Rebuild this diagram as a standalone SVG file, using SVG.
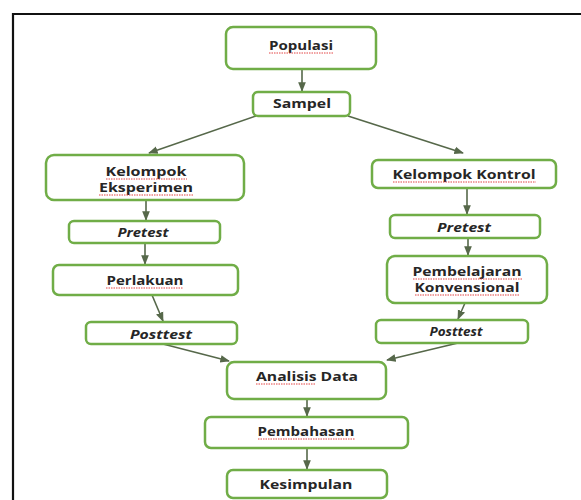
<svg xmlns="http://www.w3.org/2000/svg" width="581" height="500" viewBox="0 0 581 500">
<defs>
<style>
.box{fill:#ffffff;stroke:#70ad47;stroke-width:2.5}
.t{font-family:"Open Sans","Liberation Sans",sans-serif;font-weight:bold;font-size:12.5px;fill:#262626;text-anchor:middle}
.i{font-style:italic}
.c{fill:none;stroke:#56684a;stroke-width:1.6}
.sq{fill:none;stroke:#e03030;stroke-width:0.9;stroke-dasharray:1.5 1}
</style>
<marker id="ah" viewBox="0 0 10 10" refX="9" refY="5" markerWidth="6" markerHeight="6" orient="auto-start-reverse">
<path d="M0,1 L10,5 L0,9 Z" fill="#56684a"/>
</marker>
</defs>
<rect width="581" height="500" fill="#ffffff"/>
<path d="M13,500 V14 H581" fill="none" stroke="#111111" stroke-width="2.2"/>

<g id="connectors">
<line class="c" x1="302" y1="69" x2="302" y2="91" marker-end="url(#ah)"/>
<line class="c" x1="256" y1="116" x2="149" y2="153" marker-end="url(#ah)"/>
<line class="c" x1="348" y1="116" x2="463" y2="153" marker-end="url(#ah)"/>
<line class="c" x1="146" y1="200" x2="146" y2="220" marker-end="url(#ah)"/>
<line class="c" x1="145" y1="243" x2="145" y2="264" marker-end="url(#ah)"/>
<line class="c" x1="152" y1="295" x2="163" y2="321" marker-end="url(#ah)"/>
<line class="c" x1="163" y1="344" x2="229" y2="361" marker-end="url(#ah)"/>
<line class="c" x1="467" y1="188" x2="467" y2="214" marker-end="url(#ah)"/>
<line class="c" x1="468" y1="238" x2="468" y2="255" marker-end="url(#ah)"/>
<line class="c" x1="465" y1="303" x2="458" y2="319" marker-end="url(#ah)"/>
<line class="c" x1="458" y1="343" x2="387" y2="360" marker-end="url(#ah)"/>
<line class="c" x1="307" y1="399" x2="307" y2="416" marker-end="url(#ah)"/>
<line class="c" x1="307" y1="448" x2="307" y2="469" marker-end="url(#ah)"/>
</g>

<g id="populasi">
<rect class="box" x="226" y="27" width="150" height="42" rx="7"/>
<text class="t" x="301" y="50" textLength="64" lengthAdjust="spacingAndGlyphs">Populasi</text>
<path class="sq" d="M269,53 H333"/>
</g>
<g id="sampel">
<rect class="box" x="253" y="92" width="97" height="24" rx="5"/>
<text class="t" x="302" y="108" textLength="58" lengthAdjust="spacingAndGlyphs">Sampel</text>
</g>
<g id="kelompok-eksperimen">
<rect class="box" x="46" y="155" width="198" height="45" rx="8"/>
<text class="t" x="146" y="176" textLength="81" lengthAdjust="spacingAndGlyphs">Kelompok</text>
<text class="t" x="146" y="192" textLength="94" lengthAdjust="spacingAndGlyphs">Eksperimen</text>
<path class="sq" d="M106,179 H187 M99,195 H193"/>
</g>
<g id="pretest-eksperimen">
<rect class="box" x="69" y="221" width="151" height="22" rx="5"/>
<text class="t i" x="143" y="237" textLength="51" lengthAdjust="spacingAndGlyphs">Pretest</text>
</g>
<g id="perlakuan">
<rect class="box" x="53" y="265" width="185" height="30" rx="6"/>
<text class="t" x="145" y="285" textLength="77" lengthAdjust="spacingAndGlyphs">Perlakuan</text>
<path class="sq" d="M106,288 H183"/>
</g>
<g id="posttest-eksperimen">
<rect class="box" x="86" y="322" width="151" height="22" rx="5"/>
<text class="t i" x="161" y="339" textLength="62" lengthAdjust="spacingAndGlyphs">Posttest</text>
</g>
<g id="kelompok-kontrol">
<rect class="box" x="372" y="160" width="184" height="28" rx="6"/>
<text class="t" x="464" y="179" textLength="143" lengthAdjust="spacingAndGlyphs">Kelompok Kontrol</text>
<path class="sq" d="M393,182 H536"/>
</g>
<g id="pretest-kontrol">
<rect class="box" x="390" y="215" width="150" height="23" rx="5"/>
<text class="t i" x="464" y="232" textLength="54" lengthAdjust="spacingAndGlyphs">Pretest</text>
</g>
<g id="pembelajaran-konvensional">
<rect class="box" x="387" y="256" width="160" height="47" rx="8"/>
<text class="t" x="467" y="276" textLength="109" lengthAdjust="spacingAndGlyphs">Pembelajaran</text>
<text class="t" x="467" y="292" textLength="105" lengthAdjust="spacingAndGlyphs">Konvensional</text>
<path class="sq" d="M413,279 H522 M415,295 H520"/>
</g>
<g id="posttest-kontrol">
<rect class="box" x="376" y="320" width="152" height="23" rx="5"/>
<text class="t i" x="456" y="336" textLength="53" lengthAdjust="spacingAndGlyphs">Posttest</text>
</g>
<g id="analisis-data">
<rect class="box" x="227" y="362" width="159" height="37" rx="7"/>
<text class="t" x="307" y="381" textLength="102" lengthAdjust="spacingAndGlyphs">Analisis Data</text>
<path class="sq" d="M256,384 H315"/>
</g>
<g id="pembahasan">
<rect class="box" x="205" y="417" width="203" height="31" rx="6"/>
<text class="t" x="306" y="436" textLength="97" lengthAdjust="spacingAndGlyphs">Pembahasan</text>
<path class="sq" d="M258,439 H355"/>
</g>
<g id="kesimpulan">
<rect class="box" x="227" y="470" width="160" height="28" rx="6"/>
<text class="t" x="306" y="489" textLength="93" lengthAdjust="spacingAndGlyphs">Kesimpulan</text>
</g>
</svg>
